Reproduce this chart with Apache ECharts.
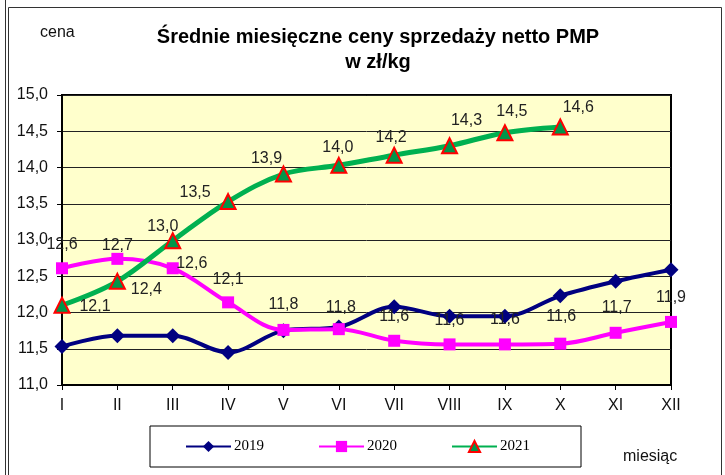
<!DOCTYPE html>
<html>
<head>
<meta charset="utf-8">
<script src="https://cdn.jsdelivr.net/npm/echarts@6/dist/echarts.min.js"></script>
<style>
  html, body { margin: 0; padding: 0; background: #fff; }
  #ec { width: 725px; height: 475px; }
</style>
</head>
<body>
<div id="ec"></div>
<script>
// miesiące
var months = ['I', 'II', 'III', 'IV', 'V', 'VI', 'VII', 'VIII', 'IX', 'X', 'XI', 'XII'];

// ceny w zł/kg
var ceny2019 = [11.53, 11.68, 11.68, 11.45, 11.75, 11.80, 12.08, 11.95, 11.95, 12.23, 12.43, 12.59];
var ceny2020 = [12.61, 12.74, 12.61, 12.14, 11.76, 11.77, 11.61, 11.56, 11.56, 11.57, 11.72, 11.87];
var ceny2021 = [12.10, 12.43, 12.99, 13.53, 13.91, 14.03, 14.17, 14.30, 14.48, 14.56];

var yTicks = { min: 11, max: 15, step: 0.5 };

// przesunięcia etykiet (px) względem punktu
var off2020 = [[0, -24], [0, -13], [19, -5], [0, -23], [0, -25], [2, -22], [0, -24], [0, -24], [0, -25], [1, -27], [1, -25], [0, -24]];
var off2021 = [[33, 1], [29, 8], [-10, -14], [-33, -9], [-17, -15], [-1, -18], [-3, -18], [17, -25], [7, -21], [18, -19]];

function fmt(v) {
    return v.toFixed(1).replace('.', ',');
}

function withLabels(vals, offs) {
    return vals.map(function (v, i) {
        return { value: v, label: { offset: offs[i] } };
    });
}

var font = 'Liberation Sans, Arial, sans-serif';
var myChart = echarts.init(document.getElementById('ec'));

var option = {
    animation: false,
    backgroundColor: '#fff',
    title: {
        text: 'Średnie miesięczne ceny sprzedaży netto PMP\nw zł/kg',
        left: 373,
        top: 20,
        textAlign: 'center',
        textStyle: {
            fontFamily: font,
            fontWeight: 'bold',
            fontSize: 20,
            lineHeight: 25,
            color: '#000'
        }
    },
    legend: {
        left: 150,
        top: 426,
        padding: [13, 51, 13, 35],
        itemGap: 54,
        itemWidth: 45,
        itemHeight: 14,
        borderColor: '#000',
        borderWidth: 1,
        textStyle: {
            fontFamily: 'Liberation Serif, Times New Roman, serif',
            fontSize: 15,
            color: '#000',
            padding: [0, 0, 0, -2]
        },
        data: ['2019', '2020', '2021']
    },
    grid: {
        left: 62,
        right: 54,
        top: 95,
        bottom: 90,
        show: true,
        backgroundColor: '#FFFFCC',
        borderColor: '#000',
        borderWidth: 2
    },
    xAxis: {
        type: 'category',
        data: months,
        boundaryGap: false,
        axisLine: { lineStyle: { color: '#000', width: 2 } },
        axisTick: { show: true, length: 5, lineStyle: { color: '#000' } },
        axisLabel: { fontFamily: font, fontSize: 16, color: '#111', margin: 13 }
    },
    yAxis: {
        type: 'value',
        min: yTicks.min,
        max: yTicks.max,
        interval: yTicks.step,
        axisLine: { show: true, lineStyle: { color: '#000', width: 2 } },
        axisTick: { show: true, length: 5, lineStyle: { color: '#000' } },
        axisLabel: { fontFamily: font, fontSize: 16, color: '#111', margin: 14, formatter: fmt },
        splitLine: { lineStyle: { color: '#222', width: 1 } }
    },
    series: [
        {
            name: '2019',
            type: 'line',
            data: ceny2019,
            smooth: 0.35,
            symbol: 'diamond',
            symbolSize: 15,
            lineStyle: { color: '#000080', width: 4 },
            itemStyle: { color: '#000080' },
            z: 2
        },
        {
            name: '2020',
            type: 'line',
            data: withLabels(ceny2020, off2020),
            smooth: 0.35,
            symbol: 'rect',
            symbolSize: 12,
            lineStyle: { color: '#FF00FF', width: 4 },
            itemStyle: { color: '#FF00FF' },
            label: {
                show: true,
                position: 'inside',
                fontFamily: font,
                fontSize: 16,
                color: '#222',
                formatter: function (p) { return fmt(p.value); }
            },
            z: 3
        },
        {
            name: '2021',
            type: 'line',
            data: withLabels(ceny2021, off2021),
            smooth: 0.35,
            symbol: 'triangle',
            symbolSize: 15,
            lineStyle: { color: '#00B050', width: 5 },
            itemStyle: { color: '#00964A', borderColor: '#FF0000', borderWidth: 2 },
            label: {
                show: true,
                position: 'inside',
                fontFamily: font,
                fontSize: 16,
                color: '#222',
                formatter: function (p) { return fmt(p.value); }
            },
            z: 4
        }
    ],
    graphic: [
        { type: 'text', left: 40, top: 25, style: { text: 'cena', font: '16px ' + font, fill: '#111' } },
        { type: 'text', left: 623, top: 449, style: { text: 'miesiąc', font: '16px ' + font, fill: '#111' } },
        // ramka
        { type: 'line', shape: { x1: 5.5, y1: 0, x2: 5.5, y2: 475 }, style: { stroke: '#333', lineWidth: 1 } },
        { type: 'line', shape: { x1: 8.5, y1: 7.5, x2: 8.5, y2: 475 }, style: { stroke: '#333', lineWidth: 1 } },
        { type: 'line', shape: { x1: 8.5, y1: 7.5, x2: 721.5, y2: 7.5 }, style: { stroke: '#333', lineWidth: 1 } },
        { type: 'line', shape: { x1: 721.5, y1: 7.5, x2: 721.5, y2: 475 }, style: { stroke: '#333', lineWidth: 1 } }
    ]
};

myChart.setOption(option);
</script>
</body>
</html>
